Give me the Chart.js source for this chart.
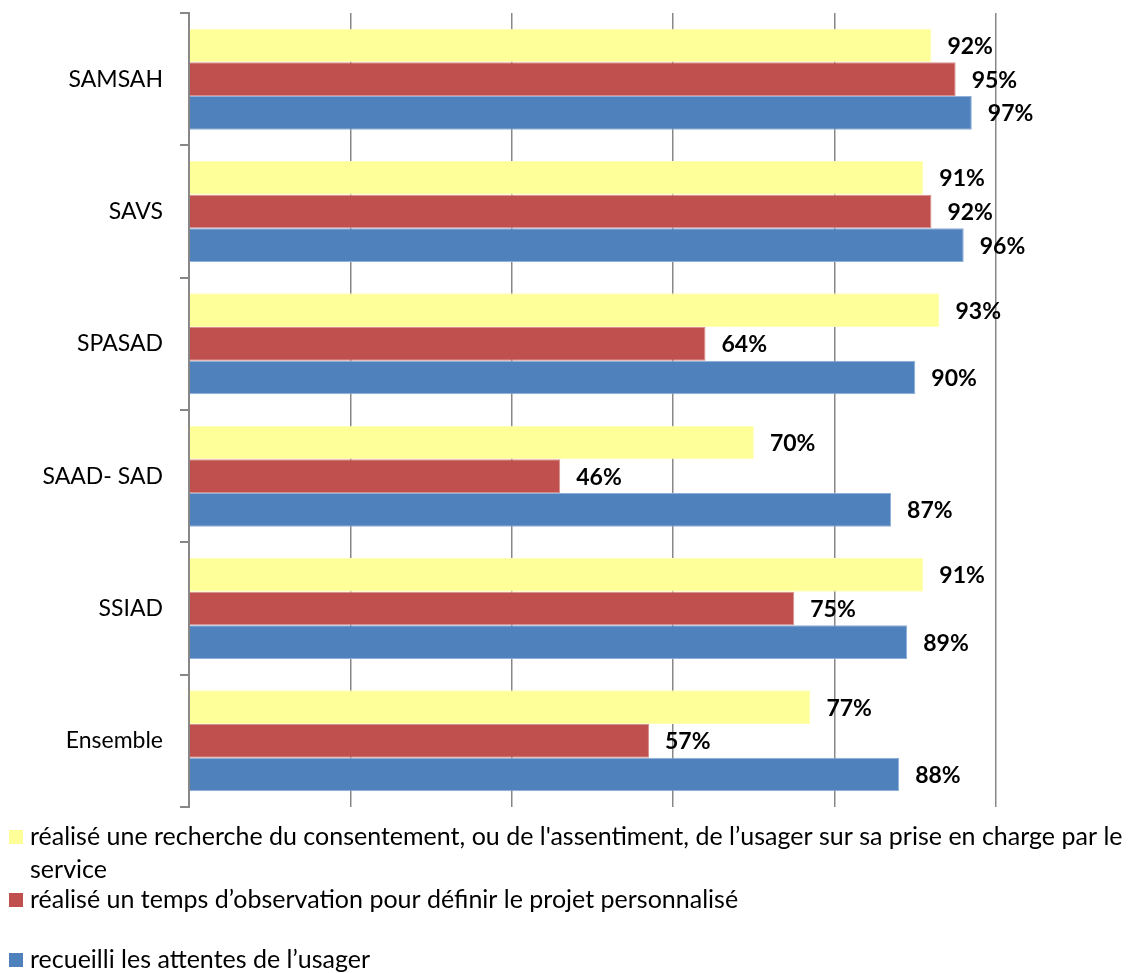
<!DOCTYPE html>
<html lang="fr">
<head>
<meta charset="utf-8">
<title>Recueil des attentes, observation et consentement par type de service</title>
<script src="https://cdn.jsdelivr.net/npm/chart.js@4/dist/chart.umd.min.js"></script>
<style>
  html, body { margin: 0; padding: 0; background: #ffffff; }
  #wrap { position: relative; width: 1147px; height: 973px; }
</style>
</head>
<body>
<div id="wrap"><canvas id="chart" width="1147" height="973"></canvas></div>
<script>
// Services (top to bottom)
const categories = ['SAMSAH', 'SAVS', 'SPASAD', 'SAAD- SAD', 'SSIAD', 'Ensemble'];

// Share of services (%) that have ...
const consentement = [92, 91, 93, 70, 91, 77];
const observation  = [95, 92, 64, 46, 75, 57];
const attentes     = [97, 96, 90, 87, 89, 88];

const seriesLabels = [
  "réalisé une recherche du consentement, ou de l'assentiment, de l’usager sur sa prise en charge par le service",
  "réalisé un temps d’observation pour définir le projet personnalisé",
  "recueilli les attentes de l’usager"
];
const seriesColors = ['#FFFF99', '#C0504D', '#4F81BD'];
const seriesEdges  = ['#FFFFB8', '#D8908E', '#8EAFD8'];

const xTicks = [0, 20, 40, 60, 80, 100];

const FONT = 'Lato, "Open Sans", sans-serif';
const AXIS_GREY = '#878787';

// Bold value labels to the right of each bar
const valueLabels = {
  id: 'valueLabels',
  afterDatasetsDraw(chart) {
    const ctx = chart.ctx;
    ctx.save();
    ctx.font = 'bold 23px ' + FONT;
    ctx.fillStyle = '#000000';
    ctx.textAlign = 'left';
    ctx.textBaseline = 'middle';
    chart.data.datasets.forEach((ds, i) => {
      const meta = chart.getDatasetMeta(i);
      meta.data.forEach((bar, j) => {
        ctx.fillText(ds.data[j] + '%', bar.x + 16, bar.y + 1);
      });
    });
    ctx.restore();
  }
};

// Legend below the plot, with wrapped entries
const bottomLegend = {
  id: 'bottomLegend',
  afterDraw(chart) {
    const ctx = chart.ctx;
    const startY = [837, 900, 960];
    const lineH = 33;
    const textX = 30;
    const maxW = chart.width - textX - 8;
    ctx.save();
    ctx.font = '25px ' + FONT;
    ctx.textBaseline = 'middle';
    ctx.textAlign = 'left';
    chart.data.datasets.forEach((ds, i) => {
      const words = ds.label.split(' ');
      const lines = [];
      let cur = '';
      words.forEach(w => {
        const test = cur ? cur + ' ' + w : w;
        if (ctx.measureText(test).width > maxW && cur) {
          lines.push(cur);
          cur = w;
        } else {
          cur = test;
        }
      });
      if (cur) lines.push(cur);
      const y0 = startY[i];
      ctx.fillStyle = ds.backgroundColor;
      ctx.fillRect(9, y0 - 7, 14, 14);
      ctx.fillStyle = '#000000';
      lines.forEach((ln, k) => ctx.fillText(ln, textX, y0 + k * lineH));
    });
    ctx.restore();
  }
};

function build() {
  new Chart(document.getElementById('chart'), {
    type: 'bar',
    data: {
      labels: categories,
      datasets: seriesLabels.map((label, i) => ({
        label,
        data: [consentement, observation, attentes][i],
        backgroundColor: seriesColors[i],
        borderColor: seriesEdges[i],
        borderWidth: 1
      }))
    },
    options: {
      indexAxis: 'y',
      responsive: false,
      animation: false,
      devicePixelRatio: 1,
      categoryPercentage: 0.763,
      barPercentage: 1.0,
      layout: { padding: { left: 0, right: 151, top: 13, bottom: 166 } },
      plugins: {
        legend: { display: false },
        tooltip: { enabled: false },
        title: { display: false }
      },
      scales: {
        x: {
          min: 0,
          max: 100,
          afterBuildTicks(scale) { scale.ticks = xTicks.map(v => ({ value: v })); },
          afterFit(scale) {
            scale.height = 0;
            scale.paddingLeft = 0;
            scale.paddingRight = 0;
          },
          ticks: { display: false },
          grid: { color: AXIS_GREY, lineWidth: 1.5, drawTicks: false },
          border: { display: false }
        },
        y: {
          afterFit(scale) {
            scale.width = 189;
            scale.paddingTop = 0;
            scale.paddingBottom = 0;
          },
          ticks: {
            color: '#000000',
            font: { family: FONT, size: 23 },
            padding: 17
          },
          grid: {
            offset: true,
            drawOnChartArea: false,
            drawTicks: true,
            tickLength: 9,
            color: AXIS_GREY,
            lineWidth: 2
          },
          border: { display: true, color: AXIS_GREY, width: 2 }
        }
      }
    },
    plugins: [valueLabels, bottomLegend]
  });
}

if (document.fonts && document.fonts.load) {
  Promise.all([
    document.fonts.load('23px Lato'),
    document.fonts.load('bold 23px Lato'),
    document.fonts.load('25px Lato')
  ]).then(build, build);
} else {
  build();
}
</script>
</body>
</html>
